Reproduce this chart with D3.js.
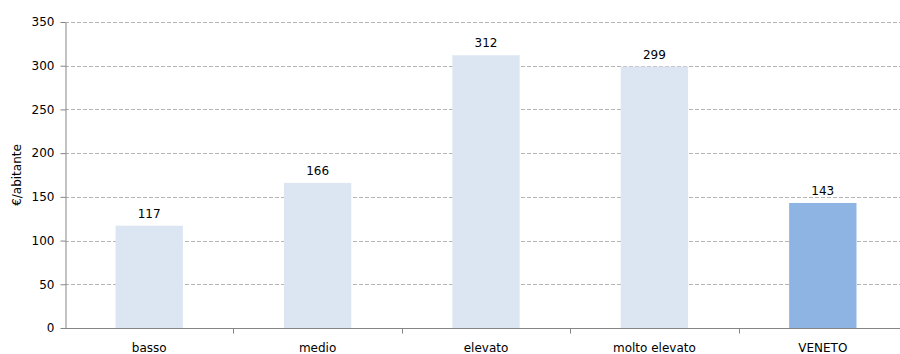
<!DOCTYPE html>
<html>
<head>
<meta charset="utf-8">
<script src="https://cdn.jsdelivr.net/npm/d3@7"></script>
<style>
  body { margin: 0; background: #fff; }
  text { font-family: "DejaVu Sans", Verdana, sans-serif; font-size: 12px; fill: #000; }
</style>
</head>
<body>
<div id="chart"></div>
<script>
const categories = ["basso", "medio", "elevato", "molto elevato", "VENETO"];
const values = [117, 166, 312, 299, 143];
const yTicks = [0, 50, 100, 150, 200, 250, 300, 350];
const yTitle = "€/abitante";

const margin = { top: 22, right: -7, bottom: 26, left: 65 },
  width = 900 - margin.left - margin.right,
  height = 354 - margin.top - margin.bottom;

const svg = d3
  .select("#chart")
  .append("svg")
  .attr("width", 900)
  .attr("height", 354)
  .append("g")
  .attr("transform", `translate(${margin.left}, ${margin.top})`);

const x = d3.scaleBand().range([0, width]).domain(categories).paddingInner(0.6).paddingOuter(0.3);
const y = d3.scaleLinear().range([height, 0]).domain([0, 350]);

// grid
svg
  .append("g")
  .selectAll("line")
  .data(yTicks.filter((d) => d > 0))
  .join("line")
  .attr("x1", 0)
  .attr("x2", width)
  .attr("y1", (d) => Math.round(y(d)) + 0.5)
  .attr("y2", (d) => Math.round(y(d)) + 0.5)
  .style("stroke", "#b4b4b4")
  .style("stroke-dasharray", "4,2");

// bars
svg
  .selectAll(".bar")
  .data(values)
  .join("rect")
  .attr("class", "bar")
  .attr("x", (d, i) => x(categories[i]))
  .attr("y", (d) => y(d))
  .attr("width", x.bandwidth())
  .attr("height", (d) => height - y(d))
  .style("fill", (d, i) => (categories[i] === "VENETO" ? "#8eb4e3" : "#dce6f2"));

// value labels
svg
  .selectAll(".val")
  .data(values)
  .join("text")
  .attr("class", "val")
  .attr("x", (d, i) => x(categories[i]) + x.bandwidth() / 2)
  .attr("y", (d) => y(d) - 8)
  .attr("text-anchor", "middle")
  .text((d) => d);

// y axis
const yAxis = svg
  .append("g")
  .attr("transform", "translate(0.5,0)")
  .call(d3.axisLeft(y).tickValues(yTicks).tickSize(5).tickPadding(6).tickSizeOuter(0));
yAxis.select(".domain").style("stroke", "#868686");
yAxis.selectAll(".tick line").style("stroke", "#868686");
yAxis.selectAll("text").style("font-size", "12px").style("font-family", null);

// x axis
const bounds = categories.slice(1).map((c) => x(c) - (x.step() * x.paddingInner()) / 2);
const xAxis = svg.append("g").attr("transform", `translate(0, ${Math.round(height) + 0.5})`);
xAxis
  .append("line")
  .attr("x1", 0)
  .attr("x2", width)
  .style("stroke", "#868686");
xAxis
  .selectAll(".xt")
  .data(bounds)
  .join("line")
  .attr("class", "xt")
  .attr("x1", (d) => Math.round(d) + 0.5)
  .attr("x2", (d) => Math.round(d) + 0.5)
  .attr("y1", 0)
  .attr("y2", 5)
  .style("stroke", "#868686");
xAxis
  .selectAll(".xl")
  .data(categories)
  .join("text")
  .attr("class", "xl")
  .attr("x", (d) => x(d) + x.bandwidth() / 2)
  .attr("y", 23)
  .attr("text-anchor", "middle")
  .text((d) => d);

// y title
svg
  .append("text")
  .attr("transform", `translate(${-44}, ${height / 2}) rotate(-90)`)
  .attr("text-anchor", "middle")
  .text(yTitle);
</script>
</body>
</html>
